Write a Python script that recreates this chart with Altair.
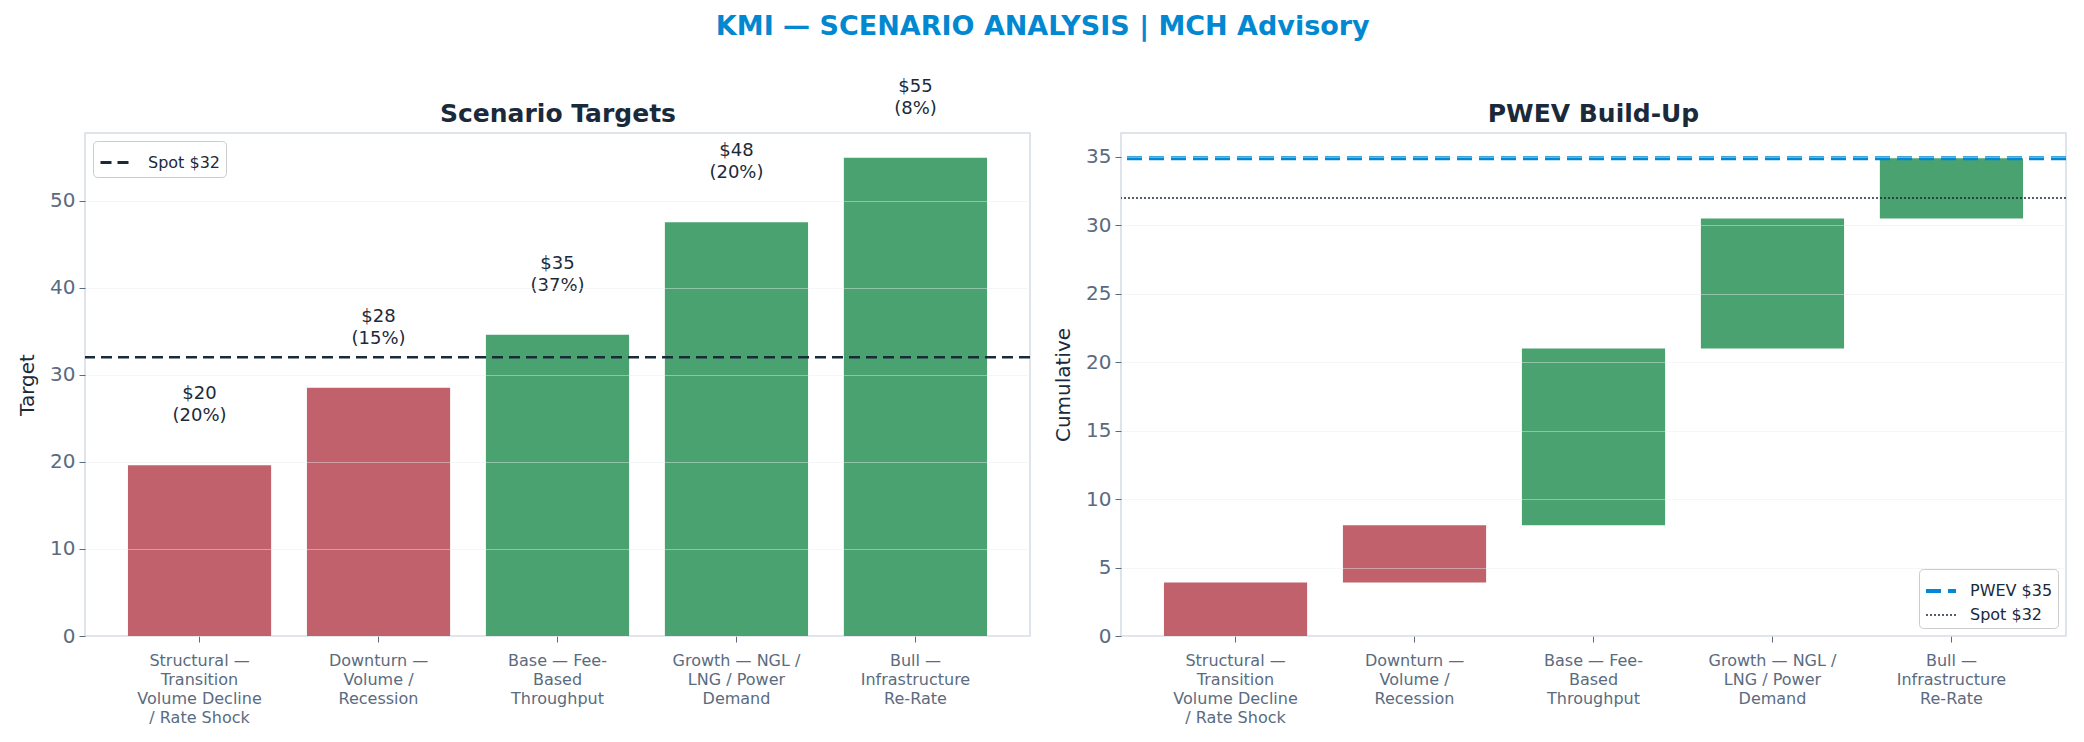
import altair as alt
import pandas as pd

# ---- data ----
categories = [
    "Structural — Transition Volume Decline / Rate Shock",
    "Downturn — Volume / Recession",
    "Base — Fee-Based Throughput",
    "Growth — NGL / LNG / Power Demand",
    "Bull — Infrastructure Re-Rate",
]
label_lines = [
    "Structural —|Transition|Volume Decline|/ Rate Shock",
    "Downturn —|Volume /|Recession",
    "Base — Fee-|Based|Throughput",
    "Growth — NGL /|LNG / Power|Demand",
    "Bull —|Infrastructure|Re-Rate",
]
targets = [19.6, 28.5, 34.6, 47.5, 54.9]
target_labels = ["$20", "$28", "$35", "$48", "$55"]
probabilities = ["20%", "15%", "37%", "20%", "8%"]
wf_start = [0.0, 3.9, 8.1, 21.0, 30.5]
wf_end = [3.9, 8.1, 21.0, 30.5, 34.9]
spot = 32.0
pwev = 34.9
left_lines = ["Spot $32"]
right_lines = ["PWEV $35", "Spot $32"]

# ---- styles ----
FONT = "DejaVu Sans"
DARK = "#1b2a3a"
GRAY = "#5a6b80"
RED = "#c0616b"
GREEN = "#4aa270"
BLUE = "#0288d1"
BORDER = "#d5dce6"

df = pd.DataFrame({
    "scenario": categories,
    "target": targets,
    "label": [f"{t}\n({p})" for t, p in zip(target_labels, probabilities)],
    "start": wf_start,
    "end": wf_end,
})
label_map = {c: l for c, l in zip(categories, label_lines)}
label_expr = "split({" + ",".join(f"'{c}': '{l}'" for c, l in label_map.items()) + "}[datum.value], '|')"

xscale = alt.Scale(paddingInner=0.2, paddingOuter=0.24)
xaxis = alt.Axis(title=None, labelAngle=0, labelExpr=label_expr, labelFontSize=16,
                 labelLineHeight=19, labelColor=GRAY, labelPadding=10, tickSize=6,
                 tickColor=GRAY, domain=False, grid=False)
bar_color = alt.condition(alt.datum.target < spot, alt.value(RED), alt.value(GREEN))

W, H = 945, 503


def panel_title_axis(text):
    return alt.Axis(orient="top", title=text, labels=False, ticks=False, domain=False, grid=False,
                    titleFontSize=25, titleFontWeight="bold", titleColor=DARK, titleFont=FONT,
                    titlePadding=7)


# ---- left panel ----
lbase = alt.Chart(df)
bars = lbase.mark_bar().encode(
    x=alt.X("scenario:N", sort=categories, scale=xscale, axis=xaxis),
    y=alt.Y("target:Q", scale=alt.Scale(domain=[0, 57.75], nice=False),
            axis=alt.Axis(title="Target", values=[0, 10, 20, 30, 40, 50], zindex=1)),
    color=bar_color,
)
texts = lbase.mark_text(baseline="bottom", dy=-62, fontSize=18, lineHeight=22,
                        color=DARK, font=FONT, lineBreak="\n").encode(
    x=alt.X("scenario:N", sort=categories, axis=panel_title_axis("Scenario Targets")),
    y="target:Q",
    text="label:N",
)
left_legend = alt.Legend(title=None, orient="top-left", offset=8, fillColor="white",
                         strokeColor="#cccccc", cornerRadius=4, padding=6,
                         labelFontSize=16, labelColor=DARK, symbolType="stroke",
                         symbolSize=784, symbolStrokeWidth=3, labelOffset=18)
lrule = alt.Chart(pd.DataFrame({"name": left_lines, "value": [spot]})).mark_rule().encode(
    y="value:Q",
    color=alt.Color("name:N", scale=alt.Scale(domain=left_lines, range=[DARK]), legend=left_legend),
    strokeDash=alt.StrokeDash("name:N", scale=alt.Scale(domain=left_lines, range=[[11, 6]]), legend=left_legend),
    strokeWidth=alt.value(2.5),
)
left = alt.layer(bars, lrule, texts).resolve_axis(x="independent").properties(width=W, height=H)

# ---- right panel ----
wf = alt.Chart(df).mark_bar().encode(
    x=alt.X("scenario:N", sort=categories, scale=xscale, axis=xaxis),
    y=alt.Y("start:Q", scale=alt.Scale(domain=[0, 36.75], nice=False),
            axis=alt.Axis(title="Cumulative", values=[0, 5, 10, 15, 20, 25, 30, 35], zindex=1)),
    y2="end:Q",
    color=bar_color,
)
right_legend = alt.Legend(title=None, orient="bottom-right", offset=8, fillColor="white",
                          strokeColor="#cccccc", cornerRadius=4, padding=5,
                          labelFontSize=16, labelColor=DARK, symbolType="stroke",
                          symbolSize=900, labelOffset=12, rowPadding=0)
rrule = alt.Chart(pd.DataFrame({"name": right_lines, "value": [pwev, spot]})).mark_rule().encode(
    y="value:Q",
    color=alt.Color("name:N", scale=alt.Scale(domain=right_lines, range=[BLUE, DARK]), legend=right_legend),
    strokeDash=alt.StrokeDash("name:N", scale=alt.Scale(domain=right_lines, range=[[15, 7], [2, 2]]), legend=right_legend),
    strokeWidth=alt.StrokeWidth("name:N", scale=alt.Scale(domain=right_lines, range=[4, 1.5]), legend=right_legend),
)
right = alt.layer(wf, rrule).properties(
    width=W, height=H,
    title=alt.TitleParams("PWEV Build-Up", fontSize=25, fontWeight="bold", color=DARK, font=FONT, offset=6),
)

chart = alt.hconcat(left, right, spacing=20).resolve_scale(
    color="independent", strokeDash="independent", strokeWidth="independent", y="independent"
).resolve_legend(
    color="independent", strokeDash="independent", strokeWidth="independent"
).properties(
    padding={"left": 8, "top": 5, "right": 5, "bottom": 5},
    title=alt.TitleParams("KMI — SCENARIO ANALYSIS | MCH Advisory", fontSize=27, fontWeight="bold",
                          color=BLUE, font=FONT, anchor="middle", offset=36),
).configure(
    font=FONT,
).configure_view(
    stroke=BORDER, strokeWidth=1.5,
).configure_axis(
    labelFont=FONT, titleFont=FONT, labelFontSize=20, titleFontSize=20, labelColor=GRAY,
    titleColor=DARK, titleFontWeight="normal", tickColor=GRAY, tickSize=6, labelPadding=4,
    titlePadding=12, domain=False, gridColor="#e8ecf0", gridOpacity=0.45,
).configure_legend(
    labelFont=FONT,
)

chart.save("out.html", embed_options={"renderer": "svg", "actions": False})
